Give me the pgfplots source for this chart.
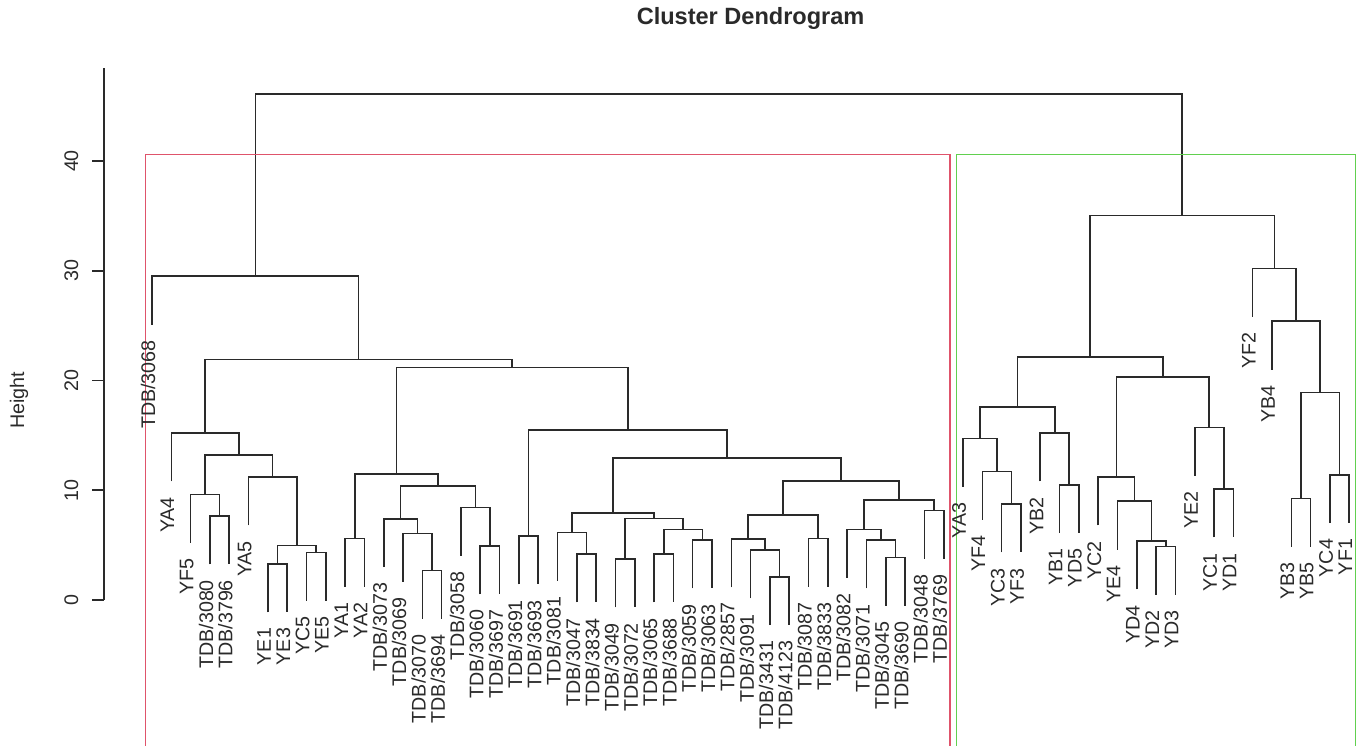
\documentclass[border=0pt]{standalone}
\usepackage{fontspec}
\setmainfont{Liberation Sans}
\usepackage{pgfplots}
\usepackage{pgfplotstable}
\pgfplotsset{compat=1.18}
\definecolor{rred}{HTML}{DF536B}
\definecolor{rgreen}{HTML}{61D04F}
\definecolor{ink}{HTML}{2A2A2A}

% dendrogram segments (leaf order position, height); nan separates merges
\pgfplotstableread{
x y
4 3.25
4 7.65
5 7.65
5 3.25
nan nan
3 5.2
3 9.6
4.5 9.6
4.5 7.65
nan nan
7 -1.12
7 3.28
8 3.28
8 -1.12
nan nan
9 -0.06
9 4.34
10 4.34
10 -0.06
nan nan
7.5 3.28
7.5 4.95
9.5 4.95
9.5 4.34
nan nan
6 6.8
6 11.2
8.5 11.2
8.5 4.95
nan nan
3.75 9.6
3.75 13.2
7.25 13.2
7.25 11.2
nan nan
2 10.8
2 15.2
5.5 15.2
5.5 13.2
nan nan
11 1.2
11 5.6
12 5.6
12 1.2
nan nan
15 -1.73
15 2.67
16 2.67
16 -1.73
nan nan
14 1.67
14 6.07
15.5 6.07
15.5 2.67
nan nan
13 3.0
13 7.4
14.75 7.4
14.75 6.07
nan nan
18 0.52
18 4.92
19 4.92
19 0.52
nan nan
17 4.04
17 8.44
18.5 8.44
18.5 4.92
nan nan
13.875 7.4
13.875 10.4
17.75 10.4
17.75 8.44
nan nan
11.5 5.6
11.5 11.5
15.8125 11.5
15.8125 10.4
nan nan
20 1.43
20 5.83
21 5.83
21 1.43
nan nan
23 -0.21
23 4.19
24 4.19
24 -0.21
nan nan
22 1.76
22 6.16
23.5 6.16
23.5 4.19
nan nan
25 -0.67
25 3.73
26 3.73
26 -0.67
nan nan
27 -0.21
27 4.19
28 4.19
28 -0.21
nan nan
29 1.06
29 5.46
30 5.46
30 1.06
nan nan
27.5 4.19
27.5 6.44
29.5 6.44
29.5 5.46
nan nan
25.5 3.73
25.5 7.44
28.5 7.44
28.5 6.44
nan nan
22.75 6.16
22.75 7.95
27 7.95
27 7.44
nan nan
33 -2.28
33 2.12
34 2.12
34 -2.28
nan nan
32 0.15
32 4.55
33.5 4.55
33.5 2.12
nan nan
31 1.16
31 5.56
32.75 5.56
32.75 4.55
nan nan
35 1.22
35 5.62
36 5.62
36 1.22
nan nan
31.875 5.56
31.875 7.74
35.5 7.74
35.5 5.62
nan nan
39 -0.51
39 3.89
40 3.89
40 -0.51
nan nan
38 1.06
38 5.46
39.5 5.46
39.5 3.89
nan nan
37 2.04
37 6.44
38.75 6.44
38.75 5.46
nan nan
41 3.74
41 8.14
42 8.14
42 3.74
nan nan
37.875 6.44
37.875 9.1
41.5 9.1
41.5 8.14
nan nan
33.6875 7.74
33.6875 10.84
39.6875 10.84
39.6875 9.1
nan nan
24.875 7.95
24.875 12.96
36.6875 12.96
36.6875 10.84
nan nan
20.5 5.83
20.5 15.5
30.78125 15.5
30.78125 12.96
nan nan
13.65625 11.5
13.65625 21.2
25.640625 21.2
25.640625 15.5
nan nan
3.75 15.2
3.75 21.9
19.6484 21.9
19.6484 21.2
nan nan
1 25.1
1 29.5
11.6992 29.5
11.6992 21.9
nan nan
45 4.34
45 8.74
46 8.74
46 4.34
nan nan
44 7.3
44 11.7
45.5 11.7
45.5 8.74
nan nan
43 10.3
43 14.7
44.75 14.7
44.75 11.7
nan nan
48 6.1
48 10.5
49 10.5
49 6.1
nan nan
47 10.8
47 15.2
48.5 15.2
48.5 10.5
nan nan
43.875 14.7
43.875 17.6
47.75 17.6
47.75 15.2
nan nan
53 0.46
53 4.86
54 4.86
54 0.46
nan nan
52 0.97
52 5.37
53.5 5.37
53.5 4.86
nan nan
51 4.6
51 9.0
52.75 9.0
52.75 5.37
nan nan
50 6.8
50 11.2
51.875 11.2
51.875 9.0
nan nan
56 5.7
56 10.1
57 10.1
57 5.7
nan nan
55 11.3
55 15.7
56.5 15.7
56.5 10.1
nan nan
50.9375 11.2
50.9375 20.3
55.75 20.3
55.75 15.7
nan nan
45.8125 17.6
45.8125 22.15
53.34375 22.15
53.34375 20.3
nan nan
60 4.86
60 9.26
61 9.26
61 4.86
nan nan
62 7.0
62 11.4
63 11.4
63 7.0
nan nan
60.5 9.26
60.5 18.9
62.5 18.9
62.5 11.4
nan nan
59 21.0
59 25.4
61.5 25.4
61.5 18.9
nan nan
58 25.8
58 30.2
60.25 30.2
60.25 25.4
nan nan
49.578125 22.15
49.578125 35.05
59.125 35.05
59.125 30.2
nan nan
6.3496 29.5
6.3496 46.1
54.3516 46.1
54.3516 35.05
}\dendro

% leaves: position, bottom of leaf line, label
\pgfplotstableread{
u b lab
1 25.1 TDB/3068
2 10.8 YA4
3 5.2 YF5
4 3.25 TDB/3080
5 3.25 TDB/3796
6 6.8 YA5
7 -1.12 YE1
8 -1.12 YE3
9 -0.06 YC5
10 -0.06 YE5
11 1.2 YA1
12 1.2 YA2
13 3.0 TDB/3073
14 1.67 TDB/3069
15 -1.73 TDB/3070
16 -1.73 TDB/3694
17 4.04 TDB/3058
18 0.52 TDB/3060
19 0.52 TDB/3697
20 1.43 TDB/3691
21 1.43 TDB/3693
22 1.76 TDB/3081
23 -0.21 TDB/3047
24 -0.21 TDB/3834
25 -0.67 TDB/3049
26 -0.67 TDB/3072
27 -0.21 TDB/3065
28 -0.21 TDB/3688
29 1.06 TDB/3059
30 1.06 TDB/3063
31 1.16 TDB/2857
32 0.15 TDB/3091
33 -2.28 TDB/3431
34 -2.28 TDB/4123
35 1.22 TDB/3087
36 1.22 TDB/3833
37 2.04 TDB/3082
38 1.06 TDB/3071
39 -0.51 TDB/3045
40 -0.51 TDB/3690
41 3.74 TDB/3048
42 3.74 TDB/3769
43 10.3 YA3
44 7.3 YF4
45 4.34 YC3
46 4.34 YF3
47 10.8 YB2
48 6.1 YB1
49 6.1 YD5
50 6.8 YC2
51 4.6 YE4
52 0.97 YD4
53 0.46 YD2
54 0.46 YD3
55 11.3 YE2
56 5.7 YC1
57 5.7 YD1
58 25.8 YF2
59 21.0 YB4
60 4.86 YB3
61 4.86 YB5
62 7.0 YC4
63 7.0 YF1
}\leaves

\newcommand\lf{\fontsize{5.6pt}{6.7pt}\selectfont}

\begin{document}
\begin{tikzpicture}[font=\lf]
\begin{axis}[
  scale only axis, width=12.93cm, height=5.323cm,
  xmin=-1.48, xmax=65.48, ymin=0, ymax=48.5,
  axis x line=none, axis y line*=left,
  clip=false,
  ytick={0,10,20,30,40},
  tick align=outside, major tick length=0.12cm,
  every tick/.style={ink, line width=0.45pt},
  y axis line style={ink, line width=0.45pt},
  /pgf/number format/assume math mode=true,
  yticklabel style={rotate=90, anchor=south, inner sep=0pt, text=ink, font=\lf},
  yticklabel shift=0.13cm,
]
\addplot[ink, line width=0.45pt, unbounded coords=jump] table[x=x, y=y] {\dendro};
\addplot[draw=none, mark=none, nodes near coords, point meta=explicit symbolic,
  every node near coord/.style={rotate=90, anchor=east, inner sep=0pt, text=ink, font=\lf}]
  table[x expr=\thisrow{u}-0.2, y expr=\thisrow{b}-1.37, meta=lab] {\leaves};
\addplot[rred, line width=0.45pt] coordinates {(0.66,-14) (0.66,40.58) (42.33,40.58) (42.33,-14)};
\addplot[rgreen, line width=0.45pt] coordinates {(42.66,-14) (42.66,40.58) (63.33,40.58) (63.33,-14)};
\node[font=\bfseries\fontsize{6.7pt}{8pt}\selectfont, text=ink] at (axis cs:32,53.0) {Cluster Dendrogram};
\node[rotate=90, text=ink] at (axis cs:-5.89,18.2) {Height};
\coordinate (BL) at (axis cs:-6.872,-13.30);
\coordinate (TR) at (axis cs:63.61,54.67);
\end{axis}
\pgfresetboundingbox
\path[use as bounding box] (BL) rectangle (TR);
\end{tikzpicture}
\end{document}
